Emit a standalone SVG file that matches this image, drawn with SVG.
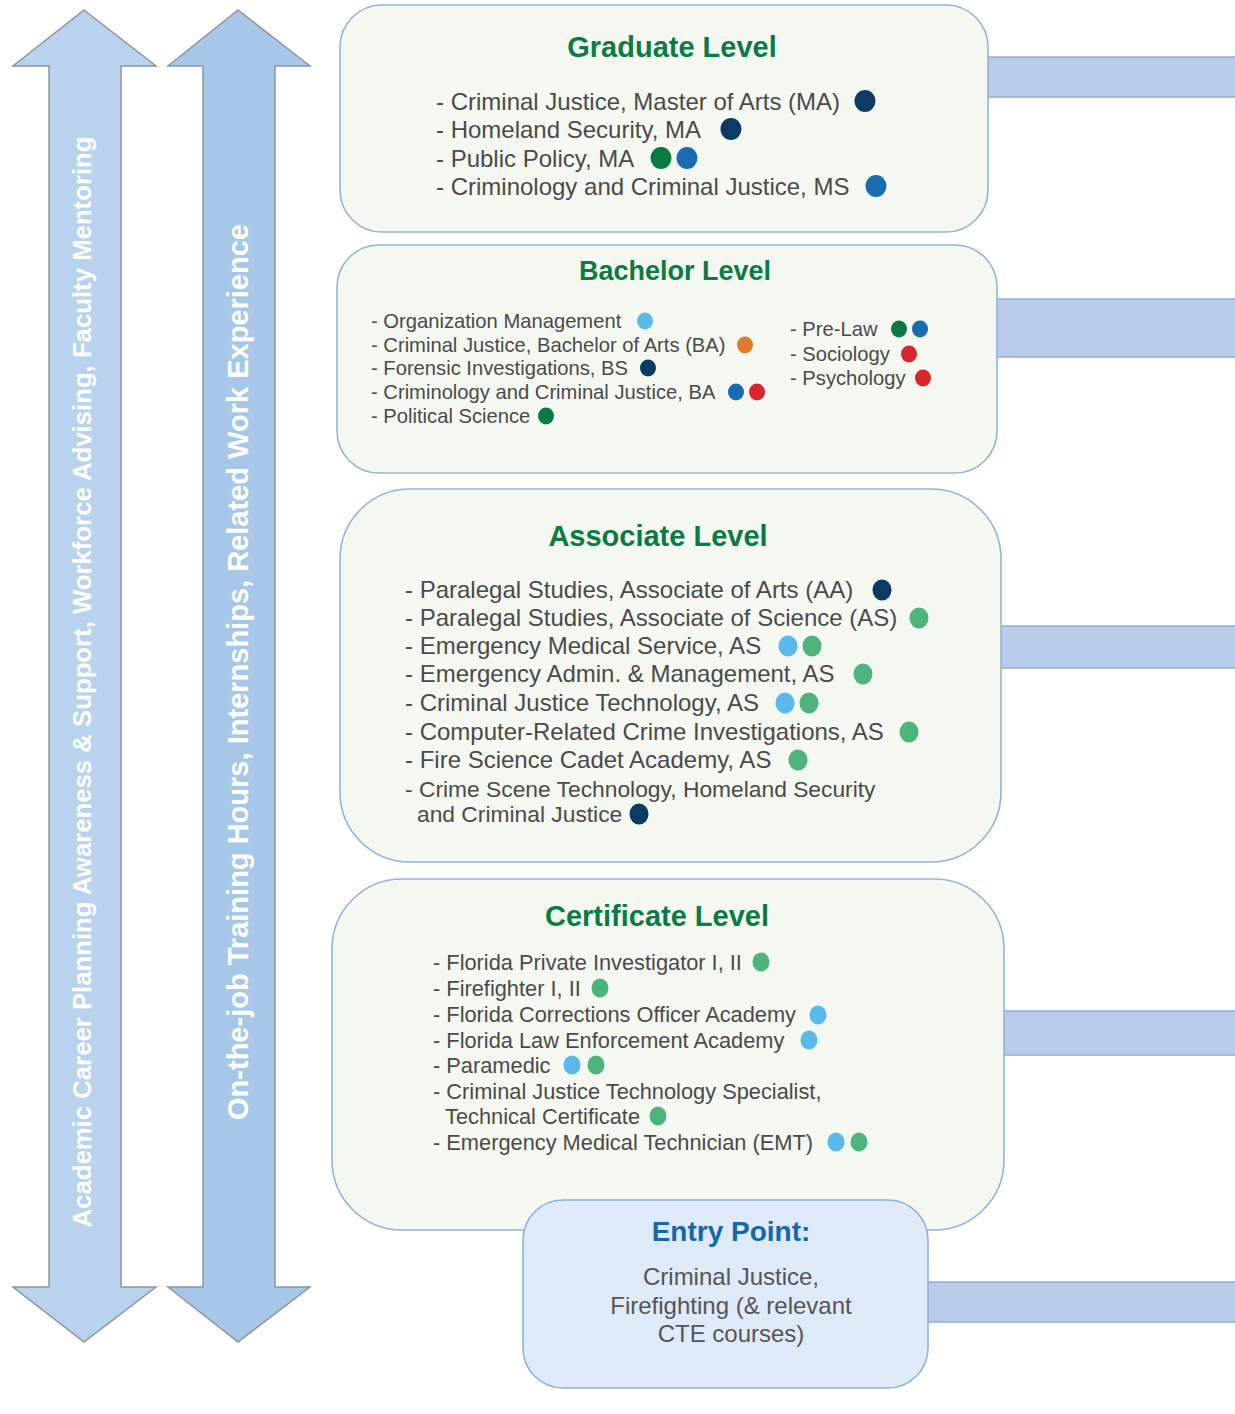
<svg xmlns="http://www.w3.org/2000/svg" width="1235" height="1414" viewBox="0 0 1235 1414">
<style>
.arrowL{fill:#b9d3ee;stroke:#8e959c;stroke-width:1.5}
.arrowR{fill:#a7c7e8;stroke:#8e959c;stroke-width:1.5}
.atext{font-family:"Liberation Sans",Arial,sans-serif;font-weight:bold;fill:#ffffff;text-anchor:middle}
.bar{fill:#b9cdea;stroke:#93acd6;stroke-width:1.5}
.box{fill:#f4f8f1;stroke:#8fb4dc;stroke-width:1.6}
.entry{fill:#deeaf7;stroke:#8fb0d8;stroke-width:1.6}
.title{font-family:"Liberation Sans",Arial,sans-serif;font-weight:bold;fill:#0b7a43;text-anchor:middle}
.etitle{font-family:"Liberation Sans",Arial,sans-serif;font-weight:bold;fill:#1268ab;text-anchor:middle;font-size:28px}
.item{font-family:"Liberation Sans",Arial,sans-serif;fill:#4a4a4a}
.etext{font-family:"Liberation Sans",Arial,sans-serif;fill:#555555;text-anchor:middle;font-size:24px}
.navy{fill:#0d3a62}.blue{fill:#1a6cb0}.dgreen{fill:#0a7a45}.lblue{fill:#5ab9ea}.lgreen{fill:#4db57b}.orange{fill:#e07b2c}.red{fill:#d7262e}
</style>

<g id="arrow-academic">
<polygon class="arrowL" points="84,10 156,66 121,66 121,1287 156,1287 84,1342 13,1287 49,1287 49,66 13,66"/>
<text class="atext" font-size="25.5" transform="translate(91,682) rotate(-90)" x="0" y="0" textLength="1091" lengthAdjust="spacingAndGlyphs">Academic Career Planning Awareness &amp; Support, Workforce Advising, Faculty Mentoring</text>
</g>
<g id="arrow-onthejob">
<polygon class="arrowR" points="238,10 310,66 275,66 275,1287 310,1287 238,1342 168,1287 203,1287 203,66 168,66"/>
<text class="atext" font-size="29" transform="translate(248,672) rotate(-90)" x="0" y="0" textLength="896" lengthAdjust="spacingAndGlyphs">On-the-job Training Hours, Internships, Related Work Experience</text>
</g>

<g id="connectors">
<rect class="bar" x="985" y="57" width="255" height="40"/>
<rect class="bar" x="994" y="299" width="246" height="58"/>
<rect class="bar" x="998" y="626" width="242" height="42"/>
<rect class="bar" x="1001" y="1011" width="239" height="44"/>
<rect class="bar" x="925" y="1282" width="315" height="40"/>
</g>

<g id="graduate">
<rect class="box" x="340" y="5" width="648" height="227" rx="42"/>
<text class="title" x="672" y="57" font-size="29">Graduate Level</text>
<g class="item" font-size="24">
<text x="436" y="110">- Criminal Justice, Master of Arts (MA)</text>
<text x="436" y="138">- Homeland Security, MA</text>
<text x="436" y="167">- Public Policy, MA</text>
<text x="436" y="195">- Criminology and Criminal Justice, MS</text>
</g>
<ellipse class="navy" cx="865" cy="101" rx="10.5" ry="11"/>
<ellipse class="navy" cx="731" cy="129" rx="10.5" ry="11"/>
<ellipse class="dgreen" cx="661" cy="158" rx="10.5" ry="11"/>
<ellipse class="blue" cx="687" cy="158" rx="10.5" ry="11"/>
<ellipse class="blue" cx="876" cy="186" rx="10.5" ry="11"/>
</g>

<g id="bachelor">
<rect class="box" x="337" y="245" width="660" height="228" rx="42"/>
<text class="title" x="675" y="280" font-size="27">Bachelor Level</text>
<g class="item" font-size="20.2">
<text x="371" y="328">- Organization Management</text>
<text x="371" y="352">- Criminal Justice, Bachelor of Arts (BA)</text>
<text x="371" y="375">- Forensic Investigations, BS</text>
<text x="371" y="399">- Criminology and Criminal Justice, BA</text>
<text x="371" y="423">- Political Science</text>
<text x="790" y="336">- Pre-Law</text>
<text x="790" y="361">- Sociology</text>
<text x="790" y="385">- Psychology</text>
</g>
<ellipse class="lblue" cx="645" cy="321" rx="8" ry="8.5"/>
<ellipse class="orange" cx="745" cy="345" rx="8" ry="8.5"/>
<ellipse class="navy" cx="648" cy="368" rx="8" ry="8.5"/>
<ellipse class="blue" cx="736" cy="392" rx="8" ry="8.5"/>
<ellipse class="red" cx="757" cy="392" rx="8" ry="8.5"/>
<ellipse class="dgreen" cx="546" cy="416" rx="8" ry="8.5"/>
<ellipse class="dgreen" cx="899" cy="329" rx="8" ry="8.5"/>
<ellipse class="blue" cx="920" cy="329" rx="8" ry="8.5"/>
<ellipse class="red" cx="909" cy="354" rx="8" ry="8.5"/>
<ellipse class="red" cx="923" cy="378" rx="8" ry="8.5"/>
</g>

<g id="associate">
<rect class="box" x="340" y="489" width="661" height="373" rx="70"/>
<text class="title" x="658" y="546" font-size="29">Associate Level</text>
<g class="item" font-size="24">
<text x="405" y="598">- Paralegal Studies, Associate of Arts (AA)</text>
<text x="405" y="626">- Paralegal Studies, Associate of Science (AS)</text>
<text x="405" y="654">- Emergency Medical Service, AS</text>
<text x="405" y="682">- Emergency Admin. &amp; Management, AS</text>
<text x="405" y="711">- Criminal Justice Technology, AS</text>
<text x="405" y="740">- Computer-Related Crime Investigations, AS</text>
<text x="405" y="768">- Fire Science Cadet Academy, AS</text>
<text x="405" y="797" font-size="22.8">- Crime Scene Technology, Homeland Security</text>
<text x="417" y="822" font-size="22.8">and Criminal Justice</text>
</g>
<ellipse class="navy" cx="882" cy="590" rx="9.5" ry="10.5"/>
<ellipse class="lgreen" cx="919" cy="618" rx="9.5" ry="10.5"/>
<ellipse class="lblue" cx="788" cy="646" rx="9.5" ry="10.5"/>
<ellipse class="lgreen" cx="812" cy="646" rx="9.5" ry="10.5"/>
<ellipse class="lgreen" cx="863" cy="674" rx="9.5" ry="10.5"/>
<ellipse class="lblue" cx="785" cy="703" rx="9.5" ry="10.5"/>
<ellipse class="lgreen" cx="809" cy="703" rx="9.5" ry="10.5"/>
<ellipse class="lgreen" cx="909" cy="732" rx="9.5" ry="10.5"/>
<ellipse class="lgreen" cx="798" cy="760" rx="9.5" ry="10.5"/>
<ellipse class="navy" cx="639" cy="814" rx="9.5" ry="10.5"/>
</g>

<g id="certificate">
<rect class="box" x="332" y="879" width="672" height="351" rx="70"/>
<text class="title" x="657" y="926" font-size="29">Certificate Level</text>
<g class="item" font-size="21.8">
<text x="433" y="970">- Florida Private Investigator I, II</text>
<text x="433" y="996">- Firefighter I, II</text>
<text x="433" y="1022">- Florida Corrections Officer Academy</text>
<text x="433" y="1048">- Florida Law Enforcement Academy</text>
<text x="433" y="1073">- Paramedic</text>
<text x="433" y="1099">- Criminal Justice Technology Specialist,</text>
<text x="445" y="1124">Technical Certificate</text>
<text x="433" y="1150">- Emergency Medical Technician (EMT)</text>
</g>
<ellipse class="lgreen" cx="761" cy="962" rx="8.5" ry="9.5"/>
<ellipse class="lgreen" cx="600" cy="988" rx="8.5" ry="9.5"/>
<ellipse class="lblue" cx="818" cy="1015" rx="8.5" ry="9.5"/>
<ellipse class="lblue" cx="809" cy="1040" rx="8.5" ry="9.5"/>
<ellipse class="lblue" cx="572" cy="1065" rx="8.5" ry="9.5"/>
<ellipse class="lgreen" cx="596" cy="1065" rx="8.5" ry="9.5"/>
<ellipse class="lgreen" cx="658" cy="1116" rx="8.5" ry="9.5"/>
<ellipse class="lblue" cx="836" cy="1142" rx="8.5" ry="9.5"/>
<ellipse class="lgreen" cx="859" cy="1142" rx="8.5" ry="9.5"/>
</g>

<g id="entry-point">
<rect class="entry" x="523" y="1200" width="405" height="188" rx="40"/>
<text class="etitle" x="731" y="1241">Entry Point:</text>
<text class="etext" x="731" y="1285">Criminal Justice,</text>
<text class="etext" x="731" y="1314">Firefighting (&amp; relevant</text>
<text class="etext" x="731" y="1342">CTE courses)</text>
</g>
</svg>
